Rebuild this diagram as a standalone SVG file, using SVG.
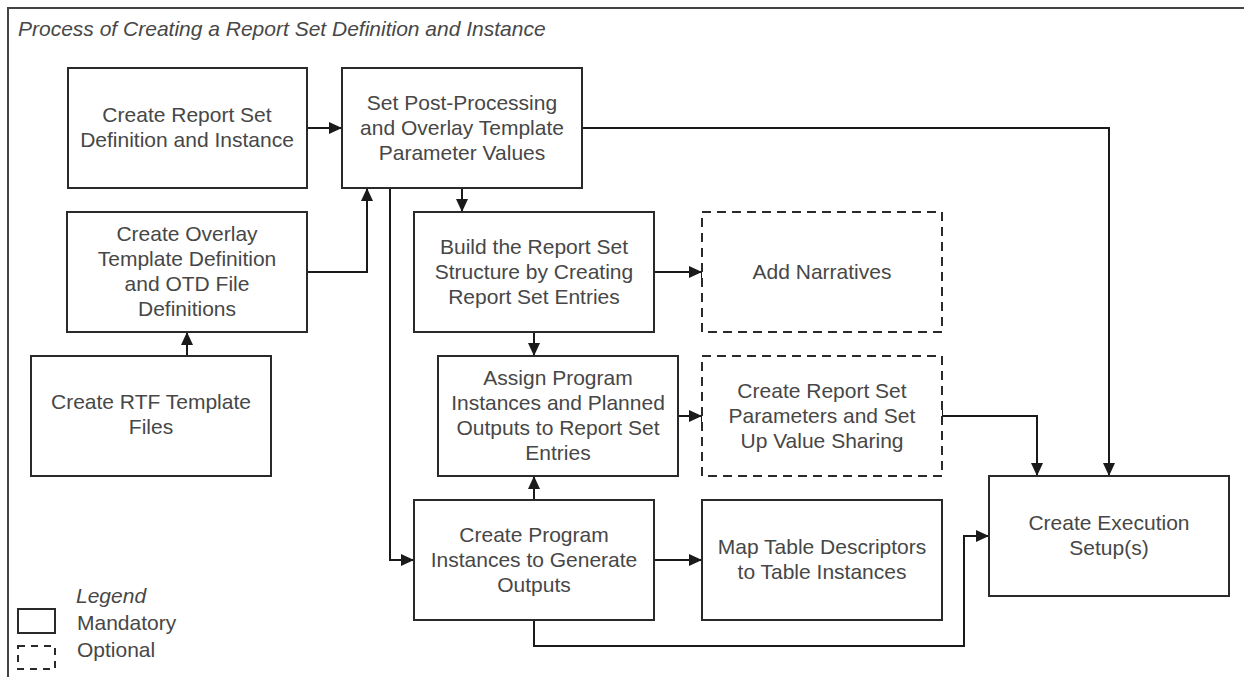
<svg xmlns="http://www.w3.org/2000/svg" width="1244" height="677" viewBox="0 0 1244 677">
<defs>
<marker id="ah" viewBox="0 0 13 12" refX="13" refY="6" markerWidth="13" markerHeight="12" markerUnits="userSpaceOnUse" orient="auto">
<path d="M0,0 L13,6 L0,12 Z" fill="#1a1a1a"/>
</marker>
<style>
.box{fill:#fff;stroke:#2a2a2a;stroke-width:2}
.opt{fill:#fff;stroke:#2a2a2a;stroke-width:2;stroke-dasharray:9 6}
.t{font-family:"Liberation Sans",Arial,sans-serif;font-size:21px;fill:#474747;text-anchor:middle}
.ti{font-family:"Liberation Sans",Arial,sans-serif;font-size:21px;fill:#474747;font-style:italic}
.lt{font-family:"Liberation Sans",Arial,sans-serif;font-size:21px;fill:#474747}
.c{fill:none;stroke:#1a1a1a;stroke-width:2}
.ca{fill:none;stroke:#1a1a1a;stroke-width:2;marker-end:url(#ah)}
</style>
</defs>
<rect x="0" y="0" width="1244" height="677" fill="#fff"/>
<path d="M8,690 L8,8 L1260,8" fill="none" stroke="#444" stroke-width="2"/>
<text class="ti" x="18" y="36">Process of Creating a Report Set Definition and Instance</text>

<g id="connectors">
<path class="ca" d="M307,128 L342,128"/>
<path class="ca" d="M582,128 L1109,128 L1109,476"/>
<path class="ca" d="M307,272 L367,272 L367,188"/>
<path class="ca" d="M187,356 L187,332"/>
<path class="ca" d="M462,188 L462,212"/>
<path class="ca" d="M390,188 L390,560 L414,560"/>
<path class="ca" d="M654,272 L702,272"/>
<path class="ca" d="M534,332 L534,356"/>
<path class="ca" d="M678,416 L702,416"/>
<path class="ca" d="M942,416 L1037,416 L1037,476"/>
<path class="ca" d="M534,500 L534,476"/>
<path class="ca" d="M654,560 L702,560"/>
<path class="ca" d="M534,620 L534,646 L964,646 L964,536 L989,536"/>
<path class="c" d="M702,265 L702,279 M702,409 L702,423 M942,409 L942,423"/>
</g>

<g id="n-create-rsd">
<rect class="box" x="68" y="68" width="239" height="120"/>
<text class="t" x="187" y="122">Create Report Set</text>
<text class="t" x="187" y="147">Definition and Instance</text>
</g>
<g id="n-set-post">
<rect class="box" x="342" y="68" width="240" height="120"/>
<text class="t" x="462" y="110">Set Post-Processing</text>
<text class="t" x="462" y="135">and Overlay Template</text>
<text class="t" x="462" y="160">Parameter Values</text>
</g>
<g id="n-overlay">
<rect class="box" x="67" y="212" width="240" height="120"/>
<text class="t" x="187" y="241">Create Overlay</text>
<text class="t" x="187" y="266">Template Definition</text>
<text class="t" x="187" y="291">and OTD File</text>
<text class="t" x="187" y="316">Definitions</text>
</g>
<g id="n-rtf">
<rect class="box" x="31" y="356" width="240" height="120"/>
<text class="t" x="151" y="409">Create RTF Template</text>
<text class="t" x="151" y="434">Files</text>
</g>
<g id="n-build">
<rect class="box" x="414" y="212" width="240" height="120"/>
<text class="t" x="534" y="254">Build the Report Set</text>
<text class="t" x="534" y="279">Structure by Creating</text>
<text class="t" x="534" y="304">Report Set Entries</text>
</g>
<g id="n-narratives">
<rect class="opt" x="702" y="212" width="240" height="120"/>
<text class="t" x="822" y="279">Add Narratives</text>
</g>
<g id="n-assign">
<rect class="box" x="438" y="356" width="240" height="120"/>
<text class="t" x="558" y="385">Assign Program</text>
<text class="t" x="558" y="410">Instances and Planned</text>
<text class="t" x="558" y="435">Outputs to Report Set</text>
<text class="t" x="558" y="460">Entries</text>
</g>
<g id="n-params">
<rect class="opt" x="702" y="356" width="240" height="120"/>
<text class="t" x="822" y="398">Create Report Set</text>
<text class="t" x="822" y="423">Parameters and Set</text>
<text class="t" x="822" y="448">Up Value Sharing</text>
</g>
<g id="n-program">
<rect class="box" x="414" y="500" width="240" height="120"/>
<text class="t" x="534" y="542">Create Program</text>
<text class="t" x="534" y="567">Instances to Generate</text>
<text class="t" x="534" y="592">Outputs</text>
</g>
<g id="n-map">
<rect class="box" x="702" y="500" width="240" height="120"/>
<text class="t" x="822" y="554">Map Table Descriptors</text>
<text class="t" x="822" y="579">to Table Instances</text>
</g>
<g id="n-exec">
<rect class="box" x="989" y="476" width="240" height="120"/>
<text class="t" x="1109" y="530">Create Execution</text>
<text class="t" x="1109" y="555">Setup(s)</text>
</g>

<g id="legend">
<text class="ti" x="76" y="603">Legend</text>
<rect class="box" x="18" y="609" width="37" height="24"/>
<text class="lt" x="77" y="630">Mandatory</text>
<rect class="opt" x="18" y="646" width="37" height="23" style="stroke-dasharray:7 6"/>
<text class="lt" x="77" y="657">Optional</text>
</g>
</svg>
